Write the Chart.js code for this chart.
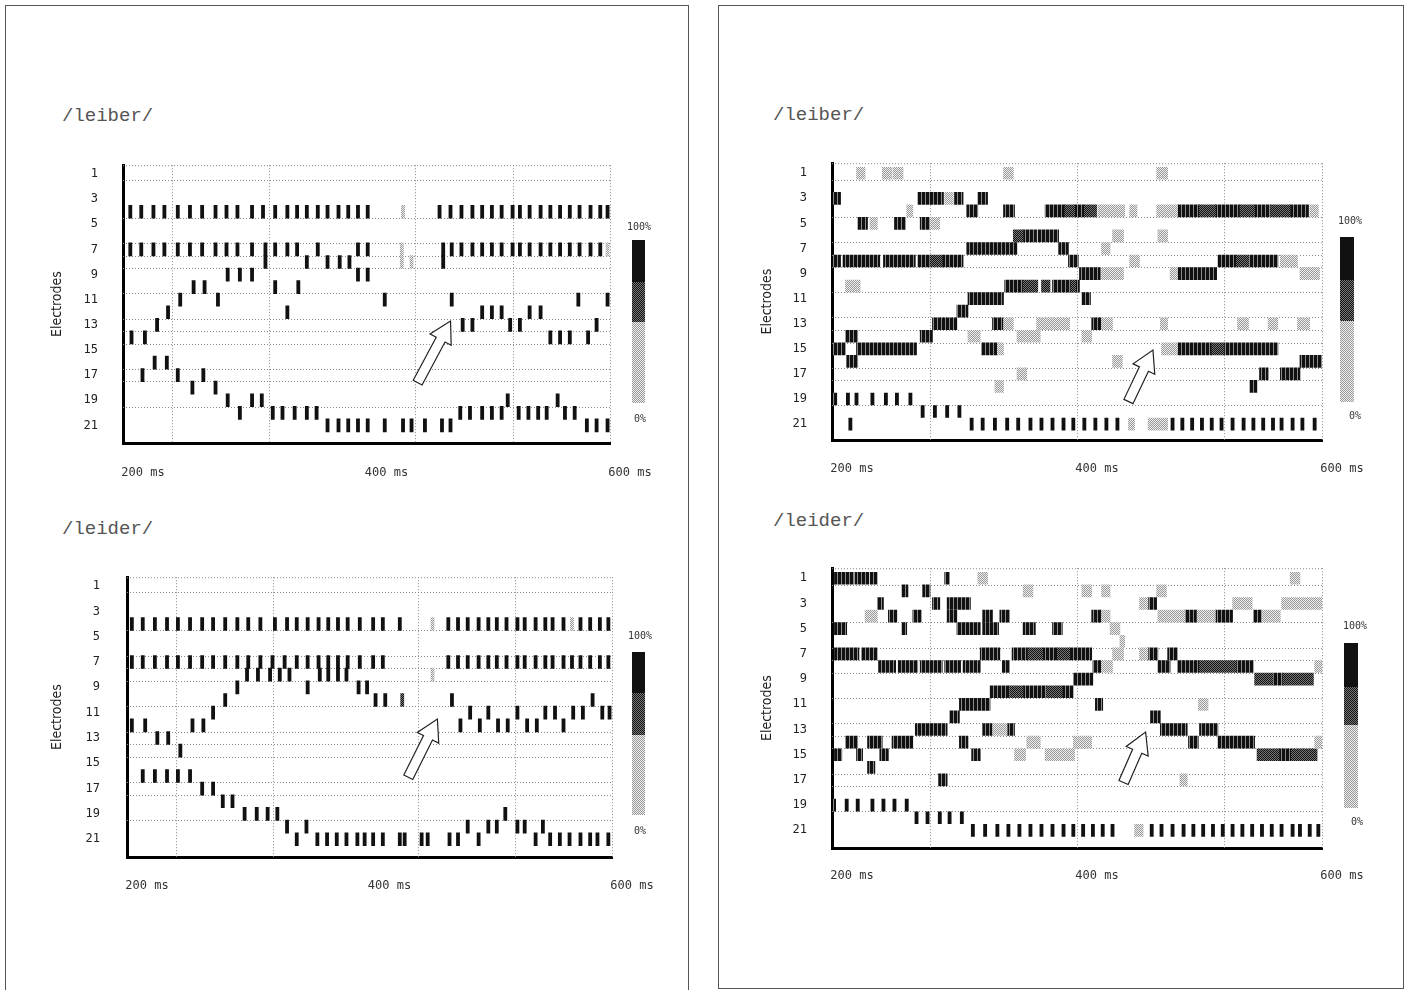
<!DOCTYPE html>
<html>
<head>
<meta charset="utf-8">
<title>/leiber/ /leider/</title>
<script src="https://cdn.jsdelivr.net/npm/chart.js@4.4.1/dist/chart.umd.min.js"></script>
<style>
  html, body { margin: 0; padding: 0; background: #fff; }
  body { position: relative; width: 1406px; height: 990px; overflow: hidden; }
  .panel { position: absolute; border: 1px solid #555; box-sizing: border-box; }
  .title { position: absolute; font-family: 'Liberation Mono', 'DejaVu Sans Mono', monospace; font-size: 19px; color: #555; white-space: pre; }
  canvas { position: absolute; }
  .bar { position: absolute; width: 13px; }
  .bar div { width: 100%; }
  .b100 { background: #111; }
  .bdark { background: repeating-conic-gradient(#111 0 25%, #7a7a7a 0 50%) 0 0 / 2px 2px; }
  .blight { background: repeating-conic-gradient(#9a9a9a 0 25%, #eee 0 50%) 0 0 / 2px 2px; }
  .pct { position: absolute; font-family: 'DejaVu Sans Mono', monospace; font-size: 10px; color: #333; }
</style>
</head>
<body>
<div class="panel" style="left:5px;top:5px;width:684px;height:992px"></div>
<div class="panel" style="left:718px;top:5px;width:686px;height:984px"></div>

<div class="title" style="left:62px;top:105px">/leiber/</div>
<div class="title" style="left:62px;top:518px">/leider/</div>
<div class="title" style="left:773px;top:104px">/leiber/</div>
<div class="title" style="left:773px;top:510px">/leider/</div>

<canvas id="tl" width="650" height="360" style="left:20px;top:133px"></canvas>
<canvas id="bl" width="650" height="360" style="left:20px;top:543px"></canvas>
<canvas id="tr" width="660" height="360" style="left:730px;top:131px"></canvas>
<canvas id="br" width="660" height="360" style="left:730px;top:536px"></canvas>

<div class="pct" style="left:627px;top:221px">100%</div>
<div class="bar" style="left:632px;top:240px"><div class="b100" style="height:42px"></div><div class="bdark" style="height:40px"></div><div class="blight" style="height:81px"></div></div>
<div class="pct" style="left:634px;top:413px">0%</div>

<div class="pct" style="left:628px;top:630px">100%</div>
<div class="bar" style="left:632px;top:652px"><div class="b100" style="height:41px"></div><div class="bdark" style="height:42px"></div><div class="blight" style="height:80px"></div></div>
<div class="pct" style="left:634px;top:825px">0%</div>

<div class="pct" style="left:1338px;top:215px">100%</div>
<div class="bar" style="left:1340px;top:237px;width:14px"><div class="b100" style="height:43px"></div><div class="bdark" style="height:41px"></div><div class="blight" style="height:81px"></div></div>
<div class="pct" style="left:1349px;top:410px">0%</div>

<div class="pct" style="left:1343px;top:620px">100%</div>
<div class="bar" style="left:1344px;top:643px;width:14px"><div class="b100" style="height:44px"></div><div class="bdark" style="height:38px"></div><div class="blight" style="height:83px"></div></div>
<div class="pct" style="left:1351px;top:816px">0%</div>

<script>
// Ejes: electrodos (filas) y tiempo en ms
const electrodeTicks = [1, 3, 5, 7, 9, 11, 13, 15, 17, 19, 21];
const timeLabels = [200, 400, 600];
const leftGridMs = [240, 320, 440, 520, 600];
const rightGridMs = [280, 400, 520, 600];
const rowLines = [1.5, 4.5, 6.5, 7.5, 8.5, 10.5, 12.5, 13.5, 14.5, 16.5, 17.5, 19.5];

// Panel izquierdo /leiber/ : [electrodo, [tiempos de disparo ms]]
const tlSpikes = [
  [4, [206, 215, 225, 234, 245, 255, 265, 276, 285, 294, 306, 315, 325, 335, 343, 351, 360, 368, 377, 385, 393, 401,
       460, 469, 478, 487, 495, 503, 511, 520, 526, 534, 543, 551, 559, 567, 575, 584, 592, 598]],
  [7, [206, 215, 225, 234, 245, 255, 265, 276, 285, 294, 306, 317, 325, 335, 343, 360, 393, 401,
       463, 470, 478, 487, 495, 503, 511, 520, 526, 534, 543, 551, 559, 567, 575, 584, 592]],
  [8, [317, 351, 368, 378, 386, 463]],
  [9, [286, 296, 306, 393, 401]],
  [10, [258, 267, 325, 344]],
  [11, [247, 278, 415, 470, 574, 598]],
  [12, [237, 335, 495, 503, 511, 534, 543]],
  [13, [228, 479, 487, 518, 526, 589]],
  [14, [207, 218, 551, 559, 567, 582]],
  [16, [226, 236]],
  [17, [216, 245, 266]],
  [18, [257, 276]],
  [19, [286, 306, 314, 516, 557]],
  [20, [296, 323, 331, 341, 351, 359, 477, 485, 495, 503, 511, 525, 533, 541, 548, 563, 571]],
  [21, [368, 377, 385, 393, 401, 415, 430, 437, 448, 462, 469, 581, 589, 598]]
];
const tlGray = [[4, [430]], [7, [429, 598]], [8, [429, 437]]];

// Panel izquierdo /leider/
const blSpikes = [
  [4, [204, 213, 223, 233, 242, 252, 262, 271, 281, 291, 300, 310, 322, 332, 340, 349, 358, 366, 374, 382, 392, 403, 411, 425,
       465, 473, 481, 490, 498, 505, 513, 522, 528, 537, 545, 551, 560, 574, 582, 590, 597]],
  [7, [204, 213, 223, 233, 242, 252, 262, 271, 281, 291, 300, 310, 320, 330, 340, 349, 358, 366, 374, 382, 392, 403, 411,
       465, 473, 481, 490, 498, 505, 513, 522, 528, 537, 545, 551, 560, 567, 574, 582, 590, 597]],
  [8, [299, 308, 318, 326, 334, 359, 366, 374, 381]],
  [9, [291, 349, 391, 398]],
  [10, [281, 405, 413, 468, 584]],
  [11, [271, 483, 498, 522, 545, 553, 568, 576, 592, 598]],
  [12, [204, 215, 254, 263, 475, 491, 506, 514, 530, 538, 560]],
  [13, [225, 234]],
  [14, [244]],
  [16, [213, 223, 233, 242, 252]],
  [17, [262, 271]],
  [18, [279, 287]],
  [19, [297, 307, 316, 324, 512]],
  [20, [332, 348, 481, 498, 505, 522, 528, 543]],
  [21, [340, 357, 365, 373, 381, 390, 396, 403, 411, 425, 429, 443, 448, 466, 473, 490, 537, 549, 557, 565, 574, 582, 588, 597]]
];
const blGray = [[4, [452, 567]], [8, [452]]];
const blDark = [[10, [427]]];

// Panel derecho /leiber/ : [electrodo, inicio ms, fin ms]
const trBlack = [
  [3, 201, 207], [3, 270, 291], [3, 300, 307], [3, 319, 327],
  [4, 310, 319], [4, 340, 349], [4, 374, 390], [4, 398, 406], [4, 482, 500], [4, 513, 533], [4, 545, 558], [4, 574, 589],
  [5, 221, 229], [5, 251, 260], [5, 272, 280],
  [6, 356, 367], [6, 368, 385],
  [7, 310, 351], [7, 385, 393],
  [8, 201, 207], [8, 209, 239], [8, 242, 268], [8, 270, 280], [8, 290, 307], [8, 393, 401], [8, 515, 530], [8, 540, 564],
  [9, 402, 419], [9, 482, 514],
  [10, 341, 356], [10, 380, 395], [10, 399, 402],
  [11, 311, 340], [11, 404, 411],
  [12, 302, 311],
  [13, 282, 302], [13, 331, 340], [13, 412, 420],
  [14, 211, 221], [14, 272, 282],
  [15, 201, 211], [15, 220, 269], [15, 322, 335], [15, 482, 510], [15, 520, 564],
  [16, 212, 221], [16, 582, 600],
  [17, 549, 556], [17, 566, 582],
  [18, 541, 547],
  [19, 201, 204]
];
const trDark = [
  [4, 390, 398], [4, 406, 416], [4, 500, 513], [4, 533, 545], [4, 558, 574],
  [6, 348, 356],
  [8, 280, 290], [8, 530, 540],
  [10, 356, 368], [10, 371, 378], [10, 395, 399],
  [15, 510, 520]
];
const trLight = [
  [1, 220, 227], [1, 241, 249], [1, 250, 258], [1, 340, 348], [1, 465, 474],
  [3, 292, 299],
  [4, 261, 266], [4, 417, 439], [4, 443, 449], [4, 465, 482], [4, 590, 597],
  [5, 231, 237], [5, 280, 288],
  [6, 429, 438], [6, 466, 474],
  [7, 420, 427],
  [8, 443, 451], [8, 566, 580],
  [9, 420, 438], [9, 476, 482], [9, 582, 598],
  [10, 211, 223],
  [13, 340, 348], [13, 367, 394], [13, 420, 429], [13, 468, 474], [13, 531, 540], [13, 556, 564], [13, 580, 590],
  [14, 311, 321], [14, 351, 370], [14, 404, 412],
  [15, 335, 340], [15, 469, 482],
  [16, 429, 437],
  [17, 351, 359],
  [18, 333, 340],
  [21, 442, 447], [21, 458, 474]
];
const trSpikes = [
  [19, [213, 220, 233, 244, 253, 264]],
  [20, [274, 284, 294, 304]],
  [21, [215, 314, 323, 333, 343, 352, 362, 371, 380, 389, 397, 406, 415, 424, 433,
        478, 486, 494, 502, 510, 518, 527, 536, 544, 552, 560, 567, 576, 584, 594]]
];

// Panel derecho /leider/
const brBlack = [
  [1, 202, 218], [1, 219, 230], [1, 231, 237], [1, 292, 296],
  [2, 257, 262], [2, 274, 280],
  [3, 237, 242], [3, 282, 288], [3, 294, 313], [3, 458, 465],
  [4, 246, 253], [4, 266, 273], [4, 294, 302], [4, 323, 331], [4, 337, 345], [4, 412, 420], [4, 488, 498], [4, 513, 527], [4, 544, 551],
  [5, 202, 212], [5, 257, 261], [5, 302, 321], [5, 323, 336], [5, 356, 366], [5, 380, 388],
  [7, 202, 222], [7, 224, 237], [7, 321, 337], [7, 347, 360], [7, 372, 384], [7, 394, 412], [7, 458, 466], [7, 474, 482],
  [8, 238, 252], [8, 254, 270], [8, 272, 290], [8, 292, 305], [8, 307, 321], [8, 339, 345], [8, 413, 420], [8, 466, 476], [8, 482, 500], [8, 530, 544],
  [9, 397, 413], [9, 560, 568],
  [10, 329, 345], [10, 356, 375], [10, 388, 397],
  [11, 304, 329], [11, 415, 421],
  [12, 296, 304], [12, 460, 468],
  [13, 268, 294], [13, 323, 331], [13, 343, 349], [13, 468, 490], [13, 500, 515],
  [14, 211, 221], [14, 229, 241], [14, 249, 266], [14, 304, 311], [14, 491, 499], [14, 515, 545],
  [15, 202, 208], [15, 220, 225], [15, 239, 246], [15, 314, 321], [15, 565, 575],
  [16, 229, 235],
  [17, 287, 294],
  [19, 201, 203]
];
const brDark = [
  [7, 360, 372], [7, 384, 394],
  [8, 500, 530],
  [9, 545, 560], [9, 568, 593],
  [10, 345, 356], [10, 375, 388],
  [15, 547, 565], [15, 575, 596]
];
const brLight = [
  [1, 319, 327], [1, 574, 582],
  [2, 356, 364], [2, 404, 412], [2, 420, 427], [2, 465, 473],
  [3, 451, 458], [3, 527, 543], [3, 567, 600],
  [4, 227, 237], [4, 420, 427], [4, 466, 488], [4, 498, 513], [4, 551, 566],
  [5, 427, 435],
  [6, 435, 439],
  [7, 429, 438], [7, 451, 458],
  [8, 420, 429], [8, 594, 600],
  [11, 499, 507],
  [13, 331, 343],
  [14, 359, 370], [14, 397, 412], [14, 594, 600],
  [15, 349, 358], [15, 374, 398],
  [17, 484, 490],
  [21, 447, 454]
];
const brSpikes = [
  [19, [212, 221, 233, 242, 251, 261]],
  [20, [269, 278, 288, 296, 306]],
  [21, [315, 325, 335, 344, 353, 362, 371, 380, 389, 397, 405, 413, 421, 429,
        461, 469, 478, 487, 495, 503, 511, 519, 527, 535, 543, 551, 559, 567, 576, 582, 590, 597]]
];

// Flechas (punta y cola en ms / electrodo)
const tlArrow = { tip: [469, 12.7], tail: [442, 17.6] };
const blArrow = { tip: [456, 11.5], tail: [432, 16.1] };
const trArrow = { tip: [462, 15.1], tail: [442, 19.2] };
const brArrow = { tip: [456, 13.2], tail: [438, 17.2] };

const SPIKE_MS = 2.6;  // ancho de cada disparo

function spikes(rows) {
  const out = [];
  rows.forEach(([e, times]) => times.forEach(t => out.push({ x: [t - SPIKE_MS / 2, t + SPIKE_MS / 2], y: e })));
  return out;
}

function runs(list) {
  return list.map(([e, s, t]) => ({ x: [s, t], y: e }));
}

function makePattern(w, h, paint) {
  const c = document.createElement('canvas');
  c.width = w;
  c.height = h;
  const g = c.getContext('2d');
  paint(g);
  return g.createPattern(c, 'repeat');
}

const fillBlack = makePattern(4, 1, g => {
  g.fillStyle = '#111'; g.fillRect(0, 0, 4, 1);
  g.fillStyle = '#8a8a8a'; g.fillRect(3, 0, 1, 1);
});
const fillDark = makePattern(2, 2, g => {
  g.fillStyle = '#777'; g.fillRect(0, 0, 2, 2);
  g.fillStyle = '#111'; g.fillRect(0, 0, 1, 1); g.fillRect(1, 1, 1, 1);
});
const fillLight = makePattern(2, 2, g => {
  g.fillStyle = '#eee'; g.fillRect(0, 0, 2, 2);
  g.fillStyle = '#999'; g.fillRect(0, 0, 1, 1); g.fillRect(1, 1, 1, 1);
});

function ds(data, fill, thick) {
  return { data, backgroundColor: fill, borderWidth: 0, grouped: false, barThickness: thick };
}

function drawArrow(ctx, x0, y0, x1, y1) {
  const dx = x1 - x0, dy = y1 - y0, len = Math.hypot(dx, dy);
  const ux = dx / len, uy = dy / len, nx = -uy, ny = ux;
  const headLen = 21, headW = 12, shaftW = 5;
  const bx = x1 - ux * headLen, by = y1 - uy * headLen;
  const pts = [
    [x0 + nx * shaftW, y0 + ny * shaftW],
    [bx + nx * shaftW, by + ny * shaftW],
    [bx + nx * headW, by + ny * headW],
    [x1, y1],
    [bx - nx * headW, by - ny * headW],
    [bx - nx * shaftW, by - ny * shaftW],
    [x0 - nx * shaftW, y0 - ny * shaftW]
  ];
  ctx.save();
  ctx.beginPath();
  pts.forEach((p, i) => i ? ctx.lineTo(p[0], p[1]) : ctx.moveTo(p[0], p[1]));
  ctx.closePath();
  ctx.fillStyle = '#fff';
  ctx.fill();
  ctx.strokeStyle = '#222';
  ctx.lineWidth = 1.2;
  ctx.stroke();
  ctx.restore();
}

function decorPlugin(gridMs, arrow) {
  return {
    id: 'decor',
    beforeDatasetsDraw(chart) {
      const { ctx, chartArea: a, scales: { x, y } } = chart;
      ctx.save();
      ctx.strokeStyle = '#8a8a8a';
      ctx.lineWidth = 1;
      ctx.setLineDash([1, 2]);
      ctx.beginPath();
      rowLines.forEach(v => {
        const py = Math.round(y.getPixelForValue(v)) + 0.5;
        ctx.moveTo(a.left, py); ctx.lineTo(a.right, py);
      });
      ctx.moveTo(a.left, a.top + 0.5); ctx.lineTo(a.right, a.top + 0.5);
      gridMs.forEach(v => {
        const px = Math.round(x.getPixelForValue(v)) + 0.5;
        ctx.moveTo(px, a.top); ctx.lineTo(px, a.bottom);
      });
      ctx.stroke();
      ctx.restore();
    },
    afterDatasetsDraw(chart) {
      const { ctx, scales: { x, y } } = chart;
      drawArrow(ctx,
        x.getPixelForValue(arrow.tail[0]), y.getPixelForValue(arrow.tail[1]),
        x.getPixelForValue(arrow.tip[0]), y.getPixelForValue(arrow.tip[1]));
    }
  };
}

function makeChart(id, L, datasets, gridMs, arrow) {
  return new Chart(document.getElementById(id), {
    type: 'bar',
    data: { datasets },
    options: {
      indexAxis: 'y',
      responsive: false,
      animation: false,
      events: [],
      layout: { padding: { left: 0, top: 0, right: L.right, bottom: L.bottom } },
      plugins: { legend: { display: false }, tooltip: { enabled: false } },
      scales: {
        x: {
          type: 'linear', position: 'bottom', min: 200, max: 600, offset: false,
          grid: { display: false, drawTicks: false },
          border: { display: true, color: '#000', width: 3 },
          afterBuildTicks: s => { s.ticks = timeLabels.map(v => ({ value: v })); },
          afterFit: s => { s.height = 40; },
          ticks: {
            padding: L.xPad, labelOffset: 20, maxRotation: 0, autoSkip: false, color: '#333',
            font: { family: "'DejaVu Sans Mono', monospace", size: 12 },
            callback: v => v + ' ms'
          }
        },
        y: {
          type: 'linear', position: 'left', reverse: true, min: L.yMin, max: L.yMax, offset: false,
          grid: { display: false, drawTicks: false },
          border: { display: true, color: '#000', width: 3 },
          afterBuildTicks: s => { s.ticks = electrodeTicks.map(v => ({ value: v })); },
          afterFit: s => { s.width = L.yWidth; },
          ticks: {
            padding: L.yPad, autoSkip: false, color: '#222',
            font: { family: "'DejaVu Sans Mono', monospace", size: 12 },
            callback: v => String(v)
          },
          title: {
            display: true, text: 'Electrodes', color: '#222',
            font: { family: "'Liberation Sans Narrow', 'DejaVu Sans Condensed', 'Liberation Sans', sans-serif", size: 14 },
            padding: { top: 29, bottom: 0 }
          }
        }
      }
    },
    plugins: [decorPlugin(gridMs, arrow)]
  });
}

makeChart('tl', { right: 60, bottom: 10, yWidth: 103, yPad: 25, xPad: 23, yMin: 0.3, yMax: 22.4 }, [
  ds(spikes(tlGray), fillLight, 13),
  ds(spikes(tlSpikes), '#111', 13)
], leftGridMs, tlArrow);

makeChart('bl', { right: 58, bottom: 6, yWidth: 107, yPad: 27, xPad: 22, yMin: 0.3, yMax: 22.4 }, [
  ds(spikes(blGray), fillLight, 13),
  ds(spikes(blDark), fillDark, 13),
  ds(spikes(blSpikes), '#111', 13)
], leftGridMs, blArrow);

makeChart('tr', { right: 68, bottom: 11, yWidth: 102, yPad: 25, xPad: 22, yMin: 0.2, yMax: 22.27 }, [
  ds(runs(trLight), fillLight, 12),
  ds(runs(trDark), fillDark, 12),
  ds(runs(trBlack), fillBlack, 12),
  ds(spikes(trSpikes), '#111', 12)
], rightGridMs, trArrow);

makeChart('br', { right: 68, bottom: 8, yWidth: 102, yPad: 25, xPad: 21, yMin: 0.2, yMax: 22.4 }, [
  ds(runs(brLight), fillLight, 12),
  ds(runs(brDark), fillDark, 12),
  ds(runs(brBlack), fillBlack, 12),
  ds(spikes(brSpikes), '#111', 12)
], rightGridMs, brArrow);
</script>
</body>
</html>
